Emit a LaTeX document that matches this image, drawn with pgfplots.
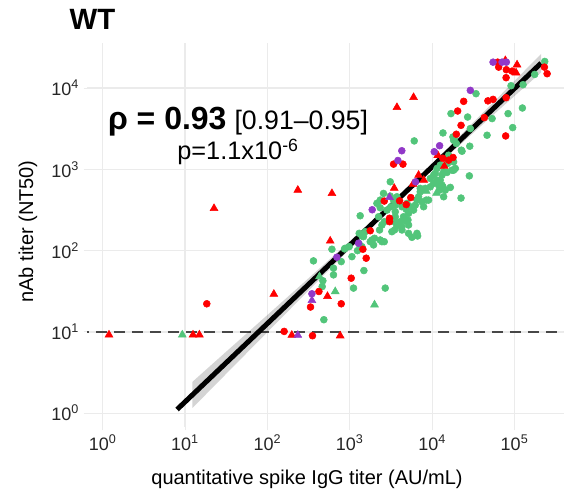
\documentclass[border=0pt]{standalone}
\usepackage{fontspec}
\setmainfont{Liberation Sans}
\usepackage{pgfplots}
\usepackage{pgfplotstable}
\pgfplotsset{compat=1.18}
\definecolor{ptgreen}{RGB}{82,197,122}
\definecolor{ptred}{RGB}{255,0,0}
\definecolor{ptpurple}{RGB}{145,56,200}
\definecolor{gridgray}{RGB}{235,235,235}

% values are log10 of the titres
\pgfplotstableread{
lx ly
2.685 1.150
2.559 1.874
2.783 2.017
2.802 1.702
2.802 1.784
2.673 1.629
2.665 1.558
2.896 1.865
2.936 2.021
2.993 2.049
3.026 1.926
3.045 1.539
3.171 1.755
3.430 1.539
3.114 2.082
3.114 2.213
3.166 2.172
3.187 2.233
3.126 2.429
3.093 2.000
3.147 2.049
3.248 2.110
3.390 2.110
3.288 2.070
3.300 2.152
3.369 2.131
3.418 2.110
3.361 2.254
3.390 2.315
3.349 2.417
3.369 2.528
3.329 2.582
3.369 2.622
3.491 2.847
3.491 2.671
3.531 2.622
3.552 2.560
3.552 2.417
3.539 2.356
3.543 2.254
3.572 2.303
3.612 2.356
3.652 2.417
3.673 2.368
3.713 2.459
3.734 2.540
3.774 2.499
3.795 2.560
3.815 2.622
3.754 2.164
3.823 2.180
3.604 2.336
3.633 2.295
3.706 2.377
3.685 2.508
3.855 2.724
3.835 2.663
3.896 2.540
3.956 2.622
4.017 2.827
4.017 2.929
4.058 3.011
4.098 3.052
4.139 2.969
4.098 2.867
4.131 2.785
4.090 2.745
4.139 2.663
4.187 3.072
4.199 3.174
4.260 3.092
4.260 2.990
4.281 3.011
4.362 3.223
4.451 2.920
4.350 2.647
3.977 2.785
3.782 3.350
4.131 3.448
4.268 3.379
4.293 3.318
4.354 3.236
4.228 3.686
4.430 3.644
4.463 3.502
4.727 3.625
4.666 3.420
4.532 3.931
4.921 3.686
5.095 3.755
4.977 3.514
4.957 4.029
5.103 4.042
5.244 4.168
5.366 4.328
3.268 2.131
2.944 2.029
3.633 2.254
3.713 2.315
3.552 2.479
3.633 2.540
3.694 2.582
3.876 2.601
3.928 2.622
3.713 2.213
3.815 2.213
3.511 2.233
3.916 2.766
4.058 2.867
4.119 2.806
4.037 2.950
4.119 2.929
3.977 2.888
3.855 2.766
3.572 2.663
3.499 2.540
3.451 2.499
3.418 2.356
3.409 2.704
4.159 2.745
4.220 2.778
4.078 2.806
4.240 2.990
4.180 2.962
4.252 3.399
3.147 2.180
4.456 3.285
4.260 3.358
}\greencirc

\pgfplotstableread{
lx ly
0.967 0.964
2.823 1.497
3.300 1.334
2.632 1.681
3.928 2.733
4.053 2.708
}\greentri

\pgfplotstableread{
lx ly
1.264 1.346
2.203 1.006
2.547 0.953
2.523 1.306
2.625 1.497
2.896 1.346
3.017 1.661
3.199 1.907
3.159 2.017
3.248 2.245
3.418 2.610
3.604 2.613
3.482 2.398
3.482 2.356
3.685 2.567
3.740 2.653
3.531 3.064
3.645 3.064
4.129 3.137
4.253 3.146
4.199 3.113
4.309 3.718
4.382 3.837
4.350 3.542
4.293 3.432
4.633 3.637
4.676 3.843
4.739 3.861
4.897 3.882
4.892 3.411
4.795 4.319
4.807 4.258
4.900 4.226
4.970 4.209
4.897 4.128
5.362 4.258
5.395 4.177
}\redcirc

\pgfplotstableread{
lx ly
0.077 0.964
1.097 0.964
1.174 0.964
1.352 2.520
2.369 2.745
2.078 1.465
2.296 0.960
2.883 0.953
2.729 1.438
2.762 2.119
2.783 2.704
3.539 2.769
3.572 3.763
3.774 3.886
3.835 2.929
3.898 2.867
3.767 2.818
4.068 3.174
4.147 3.039
4.888 4.340
5.030 4.287
5.018 4.189
}\redtri

\pgfplotstableread{
lx ly
2.540 1.469
2.843 1.919
3.106 2.091
3.272 2.503
3.798 2.847
3.584 3.109
3.631 3.229
4.025 3.217
4.090 3.291
4.463 3.972
4.739 4.319
4.848 4.319
4.900 4.319
}\purplecirc

\pgfplotstableread{
lx ly
2.369 0.960
2.540 1.387
3.482 2.655
}\purpletri

% confidence band of the fit (log10 values): lower edge forward, upper edge back
\pgfplotstableread{
lx ly
1.090 0.064
1.500 0.485
2.000 0.998
2.500 1.510
3.000 2.020
3.600 2.616
4.200 3.177
4.800 3.723
5.322 4.194
5.322 4.420
4.800 3.885
4.200 3.273
3.600 2.676
3.000 2.116
2.500 1.661
2.000 1.208
1.500 0.757
1.090 0.386
}\band

\begin{document}
\begin{tikzpicture}
\useasboundingbox (0,0) rectangle (423pt,371.25pt);
\begin{axis}[
  at={(65.25pt,51pt)}, anchor=south west,
  scale only axis, width=357.75pt, height=288pt,
  xmode=log, ymode=log,
  xmin=0.6457, xmax=398107, ymin=0.676, ymax=35892,
  xtick={1,10,100,1000,10000,100000},
  xticklabels={10\textsuperscript{0},10\textsuperscript{1},10\textsuperscript{2},10\textsuperscript{3},10\textsuperscript{4},10\textsuperscript{5}},
  ytick={1,10,100,1000,10000},
  yticklabels={10\textsuperscript{0},10\textsuperscript{1},10\textsuperscript{2},10\textsuperscript{3},10\textsuperscript{4}},
  xminorticks=false, yminorticks=false,
  grid=major,
  major grid style={color=gridgray, line width=0.9pt},
  axis line style={draw=none},
  tick pos=left, tick align=outside, major tick length=2.5pt,
  tick style={color=gridgray, line width=0.8pt},
  tick label style={font=\fontsize{13.5}{15}\selectfont, text=black!85},
  clip=true,
]
\addplot[color=black!72, line width=0.9pt, dash pattern=on 8.5pt off 5pt] coordinates {(0.5,10) (500000,10)};
\addplot[only marks, mark=*, mark size=2.6pt, color=ptgreen] table[x expr=10^\thisrow{lx}, y expr=10^\thisrow{ly}] {\greencirc};
\addplot[only marks, mark=triangle*, mark size=3.4pt, color=ptgreen] table[x expr=10^\thisrow{lx}, y expr=10^\thisrow{ly}] {\greentri};
\addplot[only marks, mark=*, mark size=2.6pt, color=ptred] table[x expr=10^\thisrow{lx}, y expr=10^\thisrow{ly}] {\redcirc};
\addplot[only marks, mark=triangle*, mark size=3.4pt, color=ptred] table[x expr=10^\thisrow{lx}, y expr=10^\thisrow{ly}] {\redtri};
\addplot[only marks, mark=*, mark size=2.6pt, color=ptpurple] table[x expr=10^\thisrow{lx}, y expr=10^\thisrow{ly}] {\purplecirc};
\addplot[only marks, mark=triangle*, mark size=3.4pt, color=ptpurple] table[x expr=10^\thisrow{lx}, y expr=10^\thisrow{ly}] {\purpletri};
\addplot[draw=none, fill=black, fill opacity=0.17] table[x expr=10^\thisrow{lx}, y expr=10^\thisrow{ly}] {\band} -- cycle;
\addplot[black, line width=3.75pt] coordinates {(8.0,1.11) (209900,20280)};
\end{axis}
\node[anchor=base west, font=\fontsize{22}{26}\selectfont\bfseries] at (48.75pt,349pt) {WT};
\node[anchor=base, font=\fontsize{15}{18}\selectfont] at (230.25pt,7.5pt) {quantitative spike IgG titer (AU/mL)};
\node[anchor=base, rotate=90, font=\fontsize{15}{18}\selectfont] at (24.75pt,197.6pt) {nAb titer (NT50)};
\node[anchor=base] at (178.5pt,273.75pt) {{\fontsize{24}{28}\selectfont\bfseries ρ = 0.93}\hspace{6pt}{\fontsize{20}{24}\selectfont [0.91–0.95]}};
\node[anchor=base, font=\fontsize{19}{22}\selectfont] at (178.5pt,251.25pt) {p=1.1x10\textsuperscript{-6}};
\end{tikzpicture}
\end{document}
